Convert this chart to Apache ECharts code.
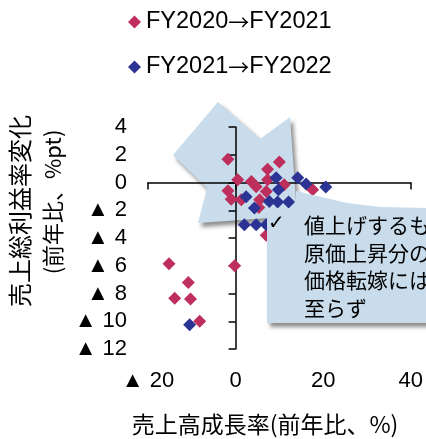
<!DOCTYPE html>
<html>
<head>
<meta charset="utf-8">
<script src="https://cdn.jsdelivr.net/npm/echarts@6/dist/echarts.min.js"></script>
<style>
  html, body { margin: 0; padding: 0; background: #fff; }
  #chart { width: 426px; height: 439px; }
</style>
</head>
<body>
<div id="chart"></div>
<script>
// Sales growth (x, % y/y) vs. change in gross margin (y, %pt y/y)
const seriesNames = ['FY2020→FY2021', 'FY2021→FY2022'];

const fy2021Points = [
  [-1.75, 1.68], [0.5, 0.2], [-1.75, -0.6], [-1.0, -1.2], [3.6, 0.07],
  [4.7, -0.3], [7.3, 0.96], [10.0, 1.47], [7.3, 0.2], [7.0, -0.65],
  [11.1, -0.17], [17.6, -0.53], [5.5, -1.25], [5.3, -1.8], [1.3, -1.25],
  [7.0, -3.8], [-0.2, -6.0], [-15.2, -5.85], [-10.8, -7.2], [-13.9, -8.35],
  [-10.3, -8.4], [-8.2, -10.0]
];

const fy2022Points = [
  [9.25, 0.34], [14.2, 0.34], [16.1, -0.1], [20.6, -0.33], [9.8, -0.53],
  [2.4, -1.03], [4.3, -1.84], [7.7, -1.37], [9.6, -1.41], [12.1, -1.41],
  [2.0, -3.04], [4.7, -3.04], [7.0, -3.04], [-10.5, -10.26]
];

const xTicks = { min: -20, max: 40, interval: 20 };
const yTicks = { min: -12, max: 4, interval: 2 };

const xTitle = '売上高成長率(前年比、%)';
const yTitleLines = ['売上総利益率変化', '(前年比、%pt)'];
const noteLines = ['値上げするも', '原価上昇分の', '価格転嫁には', '至らず'];

const FONT = '"Liberation Sans", Arial, "Noto Sans CJK JP", sans-serif';
const RED = '#bf2f5d';
const BLUE = '#2b3494';
const PANEL = '#c8dcec';

// negative values are shown with a ▲ prefix
const tri = v => (v < 0 ? '▲ ' + (-v) : String(v));

const chart = echarts.init(document.getElementById('chart'), null, { renderer: 'canvas' });

const shadow = {
  shadowColor: 'rgba(0,0,0,0.45)',
  shadowBlur: 4,
  shadowOffsetX: 3,
  shadowOffsetY: 4
};

chart.setOption({
  animation: false,
  backgroundColor: '#fff',
  textStyle: { fontFamily: FONT },
  grid: { left: 148, right: 14, top: 127, bottom: 90, containLabel: false },
  legend: {
    orient: 'vertical',
    left: 123,
    top: 5,
    itemWidth: 13,
    itemHeight: 13,
    itemGap: 21,
    formatter: n => n.split('→').map(s => '{a|' + s + '}').join('{b|→}'),
    textStyle: {
      color: '#000',
      rich: {
        a: { fontSize: 23.5, lineHeight: 24, color: '#000', fontFamily: '"Liberation Sans", Arial, sans-serif' },
        b: { fontSize: 21, lineHeight: 24, color: '#000', fontFamily: '"Noto Sans CJK JP", sans-serif' }
      }
    },
    data: seriesNames
  },
  xAxis: [
    {
      type: 'value', ...xTicks,
      axisLine: { onZero: true, onZeroAxisIndex: 0, lineStyle: { color: '#000', width: 1.5 } },
      axisTick: { show: true, length: 7, inside: false, lineStyle: { color: '#000', width: 1.5 } },
      axisLabel: { show: false },
      splitLine: { show: false }
    },
    {
      type: 'value', ...xTicks, position: 'bottom',
      axisLine: { show: false }, axisTick: { show: false }, splitLine: { show: false },
      axisLabel: { show: true, margin: 21, fontSize: 22, color: '#000', fontFamily: FONT, formatter: tri }
    }
  ],
  yAxis: [
    {
      type: 'value', ...yTicks,
      axisLine: { onZero: true, onZeroAxisIndex: 0, lineStyle: { color: '#000', width: 1.5 } },
      axisTick: { show: true, length: 7, inside: false, lineStyle: { color: '#000', width: 1.5 } },
      axisLabel: { show: false },
      splitLine: { show: false }
    },
    {
      type: 'value', ...yTicks, position: 'left',
      axisLine: { show: false }, axisTick: { show: false }, splitLine: { show: false },
      axisLabel: { show: true, margin: 21, fontSize: 22, color: '#000', fontFamily: FONT, formatter: tri }
    }
  ],
  series: [
    {
      name: seriesNames[0], type: 'scatter', xAxisIndex: 0, yAxisIndex: 0,
      symbol: 'diamond', symbolSize: 13, z: 3,
      itemStyle: { color: RED, opacity: 1 },
      data: fy2021Points
    },
    {
      name: seriesNames[1], type: 'scatter', xAxisIndex: 0, yAxisIndex: 0,
      symbol: 'diamond', symbolSize: 13, z: 4,
      itemStyle: { color: BLUE, opacity: 1 },
      data: fy2022Points
    }
  ],
  graphic: {
    elements: [
      // big arrow pointing into the cluster near the origin
      {
        type: 'polygon', z: -10, silent: true,
        shape: { points: [[218, 102], [260, 139], [290, 117], [297, 216], [198, 223], [207, 188], [173, 155]] },
        style: Object.assign({ fill: PANEL }, shadow)
      },
      // note panel
      {
        type: 'polygon', z: 100, silent: true,
        shape: { points: [[296, 191], [313, 195], [347, 203], [380, 207], [426, 208], [426, 214], [296, 214]] },
        style: { fill: PANEL }
      },
      {
        type: 'rect', z: 100, silent: true,
        shape: { x: 267, y: 208, width: 175, height: 115 },
        style: Object.assign({ fill: PANEL }, shadow)
      },
      {
        type: 'text', z: 101, silent: true,
        x: 268, y: 214,
        style: { text: '✓', fill: '#000', font: '20px "DejaVu Sans", sans-serif' }
      },
      {
        type: 'text', z: 101, silent: true,
        x: 304, y: 211,
        style: {
          text: noteLines.join('\n'), fill: '#000',
          font: '21px "Noto Sans CJK JP", sans-serif', lineHeight: 27.7
        }
      },
      // axis titles
      {
        type: 'text', silent: true,
        x: 265, y: 424,
        style: {
          text: xTitle, fill: '#000', align: 'center', verticalAlign: 'middle',
          font: '23px "Noto Sans CJK JP", "Liberation Sans", sans-serif'
        }
      },
      {
        type: 'text', silent: true,
        x: 20, y: 211, rotation: Math.PI / 2,
        style: {
          text: yTitleLines[0], fill: '#000', align: 'center', verticalAlign: 'middle',
          font: '24px "Noto Sans CJK JP", sans-serif'
        }
      },
      {
        type: 'text', silent: true,
        x: 53, y: 202, rotation: Math.PI / 2,
        style: {
          text: yTitleLines[1], fill: '#000', align: 'center', verticalAlign: 'middle',
          font: '22px "Noto Sans CJK JP", "Liberation Sans", sans-serif'
        }
      }
    ]
  }
});
</script>
</body>
</html>
